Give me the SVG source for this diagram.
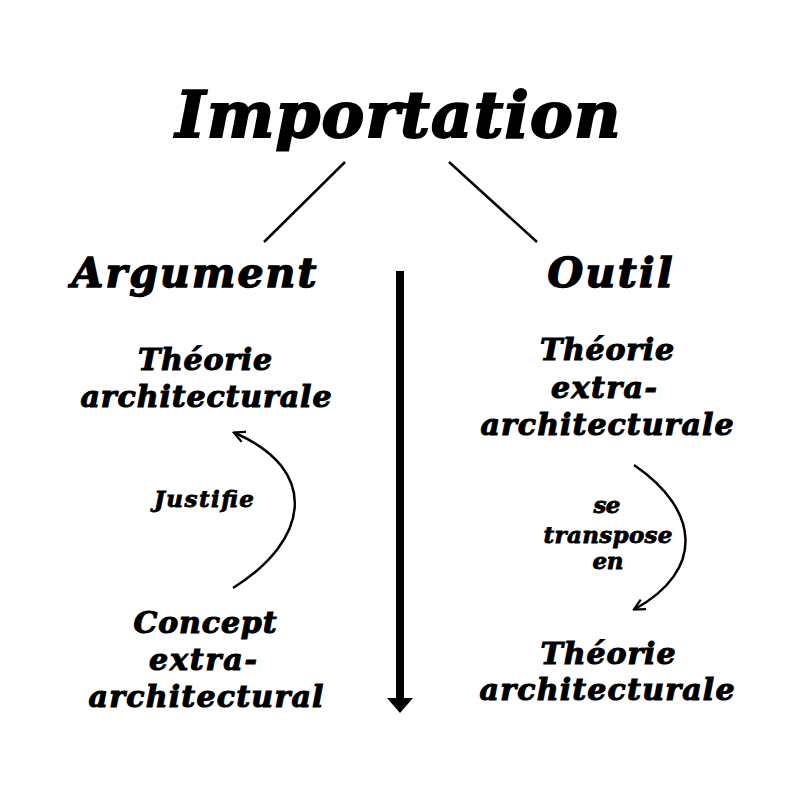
<svg xmlns="http://www.w3.org/2000/svg" width="800" height="800" viewBox="0 0 800 800">
<style>
text{font-family:"DejaVu Serif","Liberation Serif",serif;font-weight:bold;font-style:italic;fill:#000;stroke:#000;text-anchor:middle}
.t{font-size:64px;stroke-width:2}
.h{font-size:41px;stroke-width:1.4}
.n{font-size:30px;stroke-width:1.1}
.l{font-size:23px;stroke-width:0.8}
.c{fill:none;stroke:#000;stroke-width:2.5}
</style>
<defs>
<marker id="ah" viewBox="0 0 10 10" refX="8" refY="5" markerWidth="5.5" markerHeight="5.5" orient="auto" markerUnits="strokeWidth">
<path d="M1,1 L9,5 L1,9" fill="none" stroke="#000" stroke-width="1.6"/>
</marker>
</defs>
<rect width="800" height="800" fill="#fff"/>
<g id="importation"><text class="t" x="398" y="137" textLength="445" lengthAdjust="spacing">Importation</text></g>
<g id="argument"><text class="h" x="194" y="287" textLength="245" lengthAdjust="spacing">Argument</text></g>
<g id="outil"><text class="h" x="610" y="287" textLength="125" lengthAdjust="spacing">Outil</text></g>
<g id="theorie-arch-left"><text class="n" x="205" y="370" textLength="134" lengthAdjust="spacing">Théorie</text><text class="n" x="206" y="407" textLength="251" lengthAdjust="spacing">architecturale</text></g>
<g id="concept-extra"><text class="n" x="205" y="633" textLength="143" lengthAdjust="spacing">Concept</text><text class="n" x="203" y="670" textLength="108" lengthAdjust="spacing">extra-</text><text class="n" x="206" y="707" textLength="235" lengthAdjust="spacing">architectural</text></g>
<g id="theorie-extra-right"><text class="n" x="607" y="360" textLength="134" lengthAdjust="spacing">Théorie</text><text class="n" x="604" y="398" textLength="106" lengthAdjust="spacing">extra-</text><text class="n" x="607" y="435" textLength="253" lengthAdjust="spacing">architecturale</text></g>
<g id="theorie-arch-right"><text class="n" x="608" y="664" textLength="135" lengthAdjust="spacing">Théorie</text><text class="n" x="607" y="700" textLength="255" lengthAdjust="spacing">architecturale</text></g>
<g id="connectors">
<line x1="345" y1="162" x2="264" y2="242" stroke="#000" stroke-width="2.5"/>
<line x1="449" y1="162" x2="537" y2="242" stroke="#000" stroke-width="2.5"/>
<line x1="400" y1="271" x2="400" y2="700" stroke="#000" stroke-width="8"/>
<path d="M387,698 L413,698 L400,713 Z" fill="#000"/>
<path class="c" d="M233,588 C310,540 320,470 235,433" marker-end="url(#ah)"/>
<path class="c" d="M634,465 C700,510 705,570 635,609" marker-end="url(#ah)"/>
<text class="l" x="204" y="507" textLength="100" lengthAdjust="spacing">Justifie</text>
<text class="l" x="607" y="513" textLength="27" lengthAdjust="spacing">se</text>
<text class="l" x="608" y="543" textLength="129" lengthAdjust="spacing">transpose</text>
<text class="l" x="608" y="569" textLength="31" lengthAdjust="spacing">en</text>
</g>
</svg>
